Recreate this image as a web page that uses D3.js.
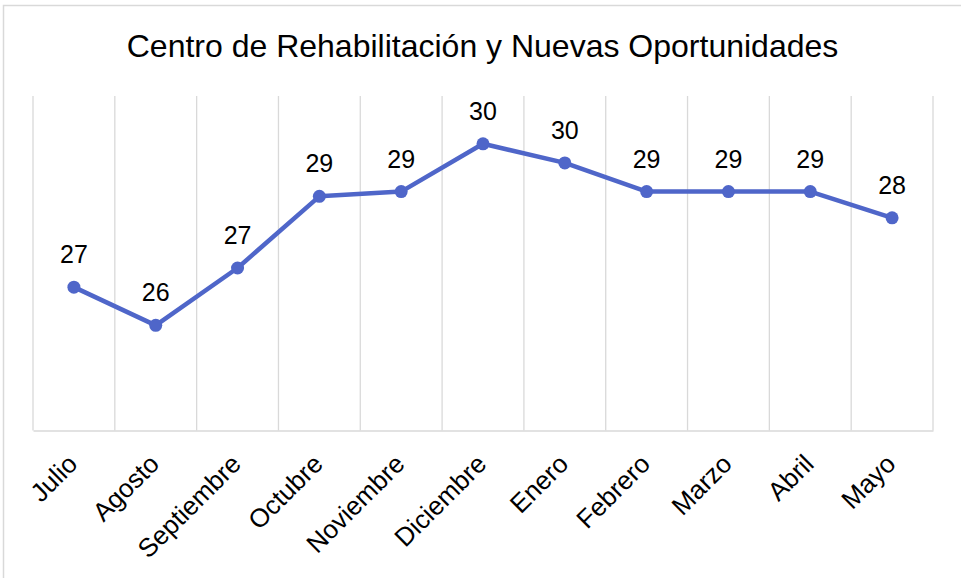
<!DOCTYPE html>
<html>
<head>
<meta charset="utf-8">
<script src="https://cdn.jsdelivr.net/npm/d3@7"></script>
<style>
  body { margin: 0; background: #fff; }
  svg { display: block; font-family: "Liberation Sans", Arial, sans-serif; }
</style>
</head>
<body>
<svg id="chart" width="961" height="578"></svg>
<script>
const title = 'Centro de Rehabilitación y Nuevas Oportunidades'

const months = ['Julio', 'Agosto', 'Septiembre', 'Octubre', 'Noviembre', 'Diciembre',
  'Enero', 'Febrero', 'Marzo', 'Abril', 'Mayo']

const values = [27.0, 26.2, 27.4, 28.9, 29.0, 30.0, 29.6, 29.0, 29.0, 29.0, 28.45]

const yDomain = [24, 31]

const lineColor = '#4f66c9'
const gridColor = '#d9d9d9'

const svg = d3.select('#chart')

// outer chart frame (runs off the right and bottom edges)
svg.append('rect')
  .attr('x', 3.5)
  .attr('y', 5.5)
  .attr('width', 980)
  .attr('height', 600)
  .attr('fill', '#fff')
  .attr('stroke', gridColor)
  .attr('stroke-width', 1.5)

const x = d3.scaleBand().domain(months).range([33, 933]).padding(0)
const y = d3.scaleLinear().domain(yDomain).range([430.5, 96])

// vertical gridlines on the category boundaries
const bounds = months.map(m => x(m)).concat([x.range()[1]])
svg.append('g')
  .selectAll('line')
  .data(bounds)
  .enter()
  .append('line')
  .attr('x1', d => d)
  .attr('x2', d => d)
  .attr('y1', y.range()[1])
  .attr('y2', y.range()[0])
  .attr('stroke', gridColor)
  .attr('stroke-width', 1.3)

// category axis
const xAxis = svg.append('g')
  .attr('transform', `translate(0, ${y.range()[0]})`)
  .call(d3.axisBottom(x).tickSize(0).tickPadding(0))

xAxis.attr('font-size', 26).attr('font-family', null)

xAxis.select('.domain')
  .attr('stroke', gridColor)
  .attr('stroke-width', 1.5)

xAxis.selectAll('.tick text')
  .attr('fill', '#000')
  .attr('text-anchor', 'end')
  .attr('dy', '0.71em')
  .attr('transform', 'translate(-8, 22) rotate(-45)')

// series line
const cx = m => x(m) + x.bandwidth() / 2
const line = d3.line()
  .x((d, i) => cx(months[i]))
  .y(d => y(d))

svg.append('path')
  .datum(values)
  .attr('d', line)
  .attr('fill', 'none')
  .attr('stroke', lineColor)
  .attr('stroke-width', 4.5)
  .attr('stroke-linejoin', 'round')

svg.append('g')
  .selectAll('circle')
  .data(values)
  .enter()
  .append('circle')
  .attr('cx', (d, i) => cx(months[i]))
  .attr('cy', d => y(d))
  .attr('r', 6.5)
  .attr('fill', lineColor)

// data labels (rounded like the source)
svg.append('g')
  .selectAll('text')
  .data(values)
  .enter()
  .append('text')
  .attr('x', (d, i) => cx(months[i]))
  .attr('y', d => y(d) - 24)
  .attr('text-anchor', 'middle')
  .attr('font-size', 25)
  .attr('fill', '#000')
  .text(d => d3.format('.0f')(d))

svg.append('text')
  .attr('x', 482.5)
  .attr('y', 57)
  .attr('text-anchor', 'middle')
  .attr('font-size', 32)
  .attr('fill', '#000')
  .text(title)
</script>
</body>
</html>
